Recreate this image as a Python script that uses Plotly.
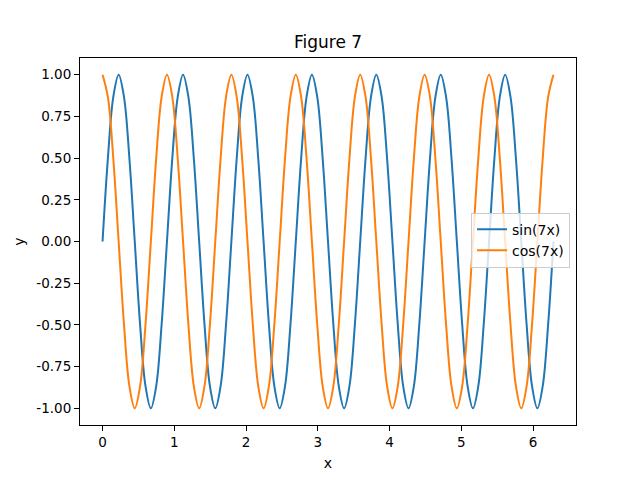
import plotly.graph_objects as go

x_values = [
    0.0000, 0.0748, 0.1496, 0.2244, 0.2992, 0.3740, 0.4488, 0.5236, 0.5984, 0.6732,
    0.7480, 0.8228, 0.8976, 0.9724, 1.0472, 1.1220, 1.1968, 1.2716, 1.3464, 1.4212,
    1.4960, 1.5708, 1.6456, 1.7204, 1.7952, 1.8700, 1.9448, 2.0196, 2.0944, 2.1692,
    2.2440, 2.3188, 2.3936, 2.4684, 2.5432, 2.6180, 2.6928, 2.7676, 2.8424, 2.9172,
    2.9920, 3.0668, 3.1416, 3.2164, 3.2912, 3.3660, 3.4408, 3.5156, 3.5904, 3.6652,
    3.7400, 3.8148, 3.8896, 3.9644, 4.0392, 4.1140, 4.1888, 4.2636, 4.3384, 4.4132,
    4.4880, 4.5628, 4.6376, 4.7124, 4.7872, 4.8620, 4.9368, 5.0116, 5.0864, 5.1612,
    5.2360, 5.3108, 5.3856, 5.4604, 5.5352, 5.6100, 5.6848, 5.7596, 5.8344, 5.9092,
    5.9840, 6.0588, 6.1336, 6.2084, 6.2832,
]

sin_values = [
    0, 0.5, 0.866, 1, 0.866, 0.5, 0, -0.5, -0.866, -1, -0.866, -0.5,
    0, 0.5, 0.866, 1, 0.866, 0.5, 0, -0.5, -0.866, -1, -0.866, -0.5,
    0, 0.5, 0.866, 1, 0.866, 0.5, 0, -0.5, -0.866, -1, -0.866, -0.5,
    0, 0.5, 0.866, 1, 0.866, 0.5, 0, -0.5, -0.866, -1, -0.866, -0.5,
    0, 0.5, 0.866, 1, 0.866, 0.5, 0, -0.5, -0.866, -1, -0.866, -0.5,
    0, 0.5, 0.866, 1, 0.866, 0.5, 0, -0.5, -0.866, -1, -0.866, -0.5,
    0, 0.5, 0.866, 1, 0.866, 0.5, 0, -0.5, -0.866, -1, -0.866, -0.5,
    0,
]

cos_values = [
    1, 0.866, 0.5, 0, -0.5, -0.866, -1, -0.866, -0.5, 0, 0.5, 0.866,
    1, 0.866, 0.5, 0, -0.5, -0.866, -1, -0.866, -0.5, 0, 0.5, 0.866,
    1, 0.866, 0.5, 0, -0.5, -0.866, -1, -0.866, -0.5, 0, 0.5, 0.866,
    1, 0.866, 0.5, 0, -0.5, -0.866, -1, -0.866, -0.5, 0, 0.5, 0.866,
    1, 0.866, 0.5, 0, -0.5, -0.866, -1, -0.866, -0.5, 0, 0.5, 0.866,
    1, 0.866, 0.5, 0, -0.5, -0.866, -1, -0.866, -0.5, 0, 0.5, 0.866,
    1, 0.866, 0.5, 0, -0.5, -0.866, -1, -0.866, -0.5, 0, 0.5, 0.866,
    1,
]

x_ticks = [0, 1, 2, 3, 4, 5, 6]
y_ticks = [-1.0, -0.75, -0.5, -0.25, 0.0, 0.25, 0.5, 0.75, 1.0]
y_tick_labels = ["-1.00", "-0.75", "-0.50", "-0.25", "0.00", "0.25", "0.50", "0.75", "1.00"]

fig = go.Figure()
fig.add_trace(go.Scatter(x=x_values, y=sin_values, mode="lines", name="sin(7x)",
                         line=dict(color="#1f77b4", width=2, shape="spline", smoothing=1)))
fig.add_trace(go.Scatter(x=x_values, y=cos_values, mode="lines", name="cos(7x)",
                         line=dict(color="#ff7f0e", width=2, shape="spline", smoothing=1)))

font = dict(family="DejaVu Sans", size=14, color="black")
fig.update_layout(
    width=640, height=480,
    margin=dict(l=80, r=64, t=58, b=53, pad=0),
    paper_bgcolor="white", plot_bgcolor="white",
    font=font,
    title=dict(text="Figure 7", x=0.5, xref="paper", xanchor="center",
               y=1 - 42 / 480, yanchor="middle", font=dict(family="DejaVu Sans", size=17)),
    showlegend=True,
    legend=dict(x=0.988, y=0.504, xanchor="right", yanchor="middle",
                bgcolor="rgba(255,255,255,0.8)", bordercolor="#cccccc", borderwidth=1,
                font=dict(family="DejaVu Sans", size=14), tracegroupgap=0),
)
fig.update_xaxes(range=[-0.314, 6.597], tickvals=x_ticks, ticks="outside", ticklen=5,
                 tickcolor="black", showline=True, linecolor="black", linewidth=1,
                 mirror=True, showgrid=False, zeroline=False,
                 tickfont=dict(size=13.5),
                 title=dict(text="x", standoff=8, font=dict(size=14)))
fig.update_yaxes(range=[-1.1, 1.1], tickvals=y_ticks, ticktext=y_tick_labels,
                 ticks="outside", ticklen=5, tickcolor="black", showline=True,
                 linecolor="black", linewidth=1, mirror=True, showgrid=False,
                 tickfont=dict(size=13.5),
                 zeroline=False, title=dict(text="y", standoff=8, font=dict(size=14)))

fig.write_html("out.html")
